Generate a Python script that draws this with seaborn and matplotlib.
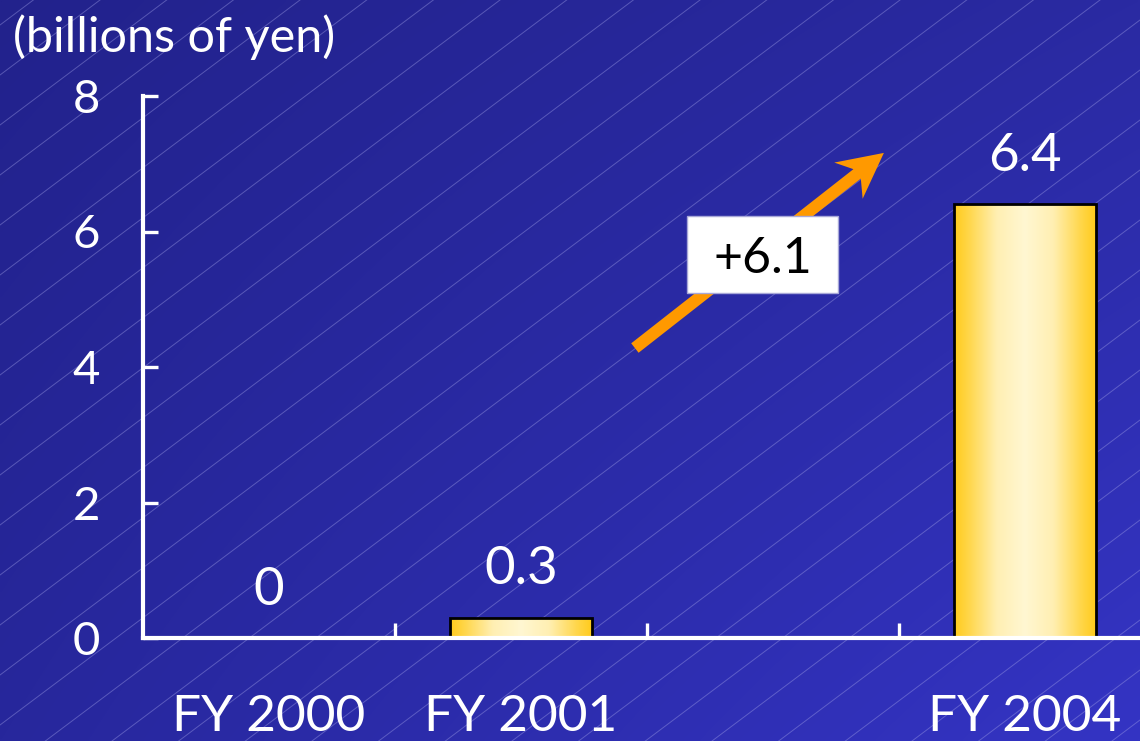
import numpy as np
import pandas as pd
import matplotlib
matplotlib.use("Agg")
import matplotlib.pyplot as plt
import seaborn as sns
from matplotlib.patches import Rectangle, Polygon
from matplotlib.transforms import ScaledTranslation, IdentityTransform
from matplotlib.colors import LinearSegmentedColormap

# ---- data -------------------------------------------------------------
periods = ["FY 2000", "FY 2001", " ", "FY 2004"]
values = [0.0, 0.3, np.nan, 6.4]
y_ticks = [0, 2, 4, 6, 8]
unit_label = "(billions of yen)"
increase_label = "+6.1"

# ---- style ------------------------------------------------------------
sns.set_style("white")
plt.rcParams["font.family"] = ["Lato", "DejaVu Sans"]

W, H, DPI = 1140, 741, 100
fig = plt.figure(figsize=(W / DPI, H / DPI), dpi=DPI)

# background: blue diagonal gradient with thin hairlines
bg = fig.add_axes([0, 0, 1, 1], zorder=-10)
bg.set_axis_off()
u = np.linspace(0, 1, 300)[None, :]
v = np.linspace(0, 1, 200)[:, None]
tl = np.array([0x22, 0x22, 0x8C]) / 255
tr = np.array([0x2A, 0x2A, 0xA2]) / 255
bl = np.array([0x27, 0x27, 0x9C]) / 255
br = np.array([0x34, 0x34, 0xC4]) / 255
grad = (tl * ((1 - u) * (1 - v))[..., None] + tr * (u * (1 - v))[..., None]
        + bl * ((1 - u) * v)[..., None] + br * (u * v)[..., None])
bg.imshow(grad, extent=[0, W, H, 0], aspect="auto", interpolation="bilinear")
xs = np.array([0, W])
for c in np.arange(25, H + 0.75 * W + 50, 50):
    bg.plot(xs, c - 0.75 * xs, color="#a0a0e6", lw=0.7, alpha=0.42)
bg.set_xlim(0, W)
bg.set_ylim(H, 0)

# main axes
ax = fig.add_axes([143 / W, 1 - 638 / H, 1008 / W, 542 / H])
ax.patch.set_alpha(0)

df = pd.DataFrame({"period": periods, "value": values})
sns.barplot(data=df, x="period", y="value", order=periods, width=0.56,
            color="#FFCC22", edgecolor="black", linewidth=2.0,
            errorbar=None, ax=ax)

# golden cylinder shading for each bar
bar_cmap = LinearSegmentedColormap.from_list(
    "gold", [(0.0, "#FFF7D2"), (0.4, "#FFEFB2"), (0.8, "#FFD648"), (1.0, "#FFCB1C")])
profile = np.abs(np.linspace(-1, 1, 256))[None, :]
for patch in list(ax.patches):
    h = patch.get_height()
    if not np.isfinite(h) or h <= 0:
        continue
    x0, y0 = patch.get_x(), patch.get_y()
    im = ax.imshow(profile, extent=[x0, x0 + patch.get_width(), y0, y0 + h],
                   cmap=bar_cmap, vmin=0, vmax=1, aspect="auto",
                   interpolation="bilinear", zorder=patch.get_zorder() + 0.1)
    im.set_clip_path(patch)
    patch.set_facecolor("none")
    patch.set_zorder(patch.get_zorder() + 0.2)

ax.set_xlim(-0.5, 3.5)
ax.set_ylim(0, 8)
ax.set_xlabel("")
ax.set_ylabel("")

for side in ("top", "right"):
    ax.spines[side].set_visible(False)
for side in ("left", "bottom"):
    ax.spines[side].set_color("white")
    ax.spines[side].set_linewidth(3.0)
    ax.spines[side].set_zorder(5)
    ax.spines[side].set_capstyle("projecting")

ax.set_yticks(y_ticks)
ax.set_yticklabels([str(t) for t in y_ticks])
ax.tick_params(axis="y", left=True, direction="in", length=10.8, width=2.4,
               color="white", labelcolor="white", labelsize=34, pad=31)
ax.set_xticks(range(len(periods)))
ax.set_xticklabels(periods)
ax.tick_params(axis="x", which="major", bottom=True, length=0,
               labelcolor="white", labelsize=37, pad=40)
ax.set_xticks(np.arange(0.5, len(periods) - 1), minor=True)
ax.tick_params(axis="x", which="minor", bottom=True, direction="in",
               length=10.5, width=2.4, color="white")

# value labels
for i, val in enumerate(values):
    if np.isfinite(val):
        ax.annotate(f"{val:g}", (i, val), xytext=(0, 24), textcoords="offset points",
                    ha="center", va="baseline", color="white", fontsize=38,
                    zorder=6)

# unit caption
fig.text(13 / W, 1 - 52 / H, unit_label, ha="left", va="baseline",
         fontsize=35, color="white")

# growth arrow (drawn in pixel space from two data anchors)
fig.canvas.draw()
p0 = ax.transData.transform((1.452, 4.28))
p1 = ax.transData.transform((2.44, 7.16))
d = (p1 - p0) / np.linalg.norm(p1 - p0)
n = np.array([-d[1], d[0]])
shaft, head_len, head_w, notch = 6.0, 45.0, 23.0, 34.0
pts = [p0 + n * shaft, p1 - d * notch + n * shaft, p1 - d * head_len + n * head_w,
       p1, p1 - d * head_len - n * head_w, p1 - d * notch - n * shaft, p0 - n * shaft]
ax.add_patch(Polygon(pts, closed=True, facecolor="#FF9900", edgecolor="none",
                     transform=IdentityTransform(), clip_on=False, zorder=7))

# increase box
bx, by = 1.96, 5.66
box_tr = fig.dpi_scale_trans + ScaledTranslation(bx, by, ax.transData)
ax.add_patch(Rectangle((-0.755, -0.385), 1.51, 0.77, transform=box_tr,
                       facecolor="white", edgecolor="#a8a8d8", lw=1.0,
                       clip_on=False, zorder=8))
ax.text(bx, by, increase_label, ha="center", va="center_baseline", fontsize=36,
        color="black", zorder=9)

fig.savefig("out.png", dpi=DPI)
